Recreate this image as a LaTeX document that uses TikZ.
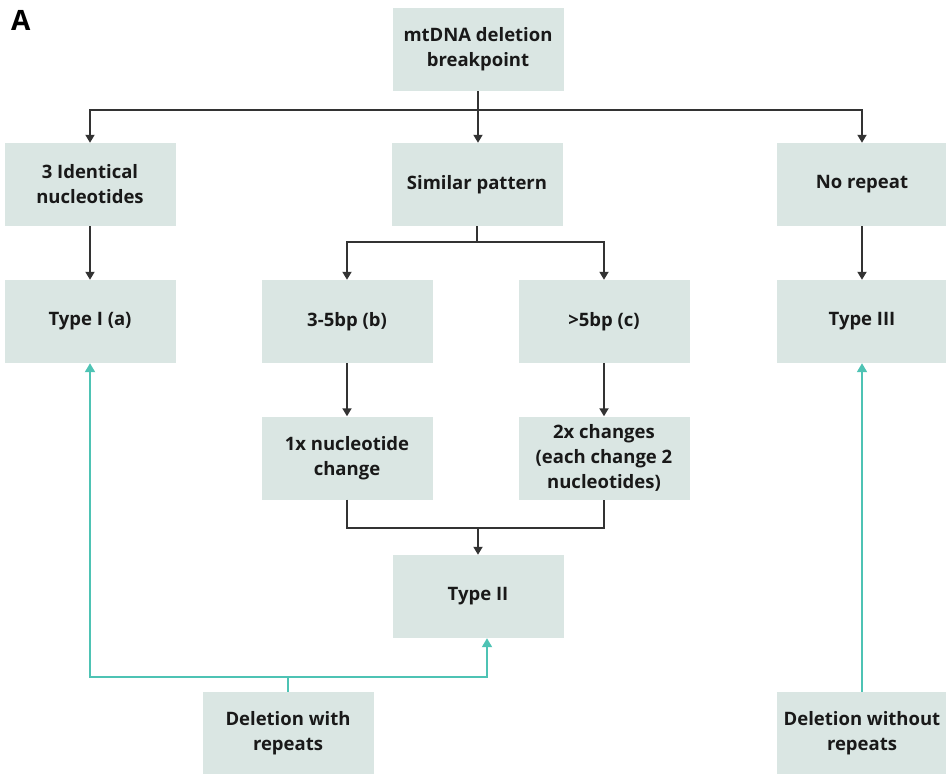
\documentclass[tikz,border=0pt]{standalone}
\usepackage{fontspec}
\setmainfont{Open Sans}
\usetikzlibrary{arrows.meta}
\definecolor{boxfill}{HTML}{DAE6E3}
\definecolor{teal}{HTML}{4EC3B4}
\definecolor{dark}{HTML}{333333}
\begin{document}
\begin{tikzpicture}[x=1pt,y=-1pt,
  box/.style={fill=boxfill,draw=none,minimum width=171pt,minimum height=83pt,align=center,font=\fontsize{18.5}{25}\selectfont\bfseries,text=black!90,inner sep=0pt},
  conn/.style={draw=dark,line width=1.8pt,-{Triangle[length=8pt,width=9pt]}},
  line/.style={draw=dark,line width=1.8pt},
  tconn/.style={draw=teal,line width=1.8pt,-{Triangle[length=9pt,width=10pt]}},
  tline/.style={draw=teal,line width=1.8pt}]
\useasboundingbox (0,0) rectangle (946,774);
\node[anchor=north west,font=\fontsize{28}{32}\selectfont\bfseries,inner sep=0pt] (lab) at (11,10) {A};
\node[box] (top) at (478,49.5) {mtDNA deletion\\breakpoint};
\node[box] (ident) at (90,184.5) {3 Identical\\nucleotides};
\node[box] (sim) at (477,184.5) {Similar pattern};
\node[box] (norep) at (862,184.5) {No repeat};
\node[box] (t1) at (90,321.5) {Type I (a)};
\node[box] (b) at (347,321.5) {3-5bp (b)};
\node[box] (c) at (604,321.5) {>5bp (c)};
\node[box] (t3) at (862,321.5) {Type III};
\node[box] (n1) at (347,458) {1x nucleotide\\change};
\node[box] (n2) at (604,458) {2x changes\\(each change 2\\nucleotides)};
\node[box] (t2) at (478,596.5) {Type II};
\node[box] (dw) at (288,733.5) {Deletion with\\repeats};
\node[box] (dwo) at (862,733.5) {Deletion without\\repeats};
% top split
\coordinate (j1) at (478,110);
\draw[line] (top.south) -- (j1);
\draw[conn] (j1) -- (top.south |- sim.north);
\draw[conn] (j1) -| (ident.north);
\draw[conn] (j1) -| (norep.north);
% similar split
\coordinate (j2) at (477,242);
\draw[line] (sim.south) -- (j2);
\draw[conn] (j2) -| (b.north);
\draw[conn] (j2) -| (c.north);
\draw[conn] (ident.south) -- (t1.north);
\draw[conn] (norep.south) -- (t3.north);
\draw[conn] (b.south) -- (n1.north);
\draw[conn] (c.south) -- (n2.north);
% merge
\coordinate (j3) at (478,528);
\draw[line] (n1.south) |- (j3) -| (n2.south);
\draw[conn] (j3) -- (t2.north);
% teal
\coordinate (j4) at (288,677);
\draw[tline] (dw.north) -- (j4);
\draw[tconn] (j4) -| (t1.south);
\draw[tconn] (j4) -| ([xshift=9pt]t2.south);
\draw[tconn] (dwo.north) -- (t3.south);
\end{tikzpicture}
\end{document}
